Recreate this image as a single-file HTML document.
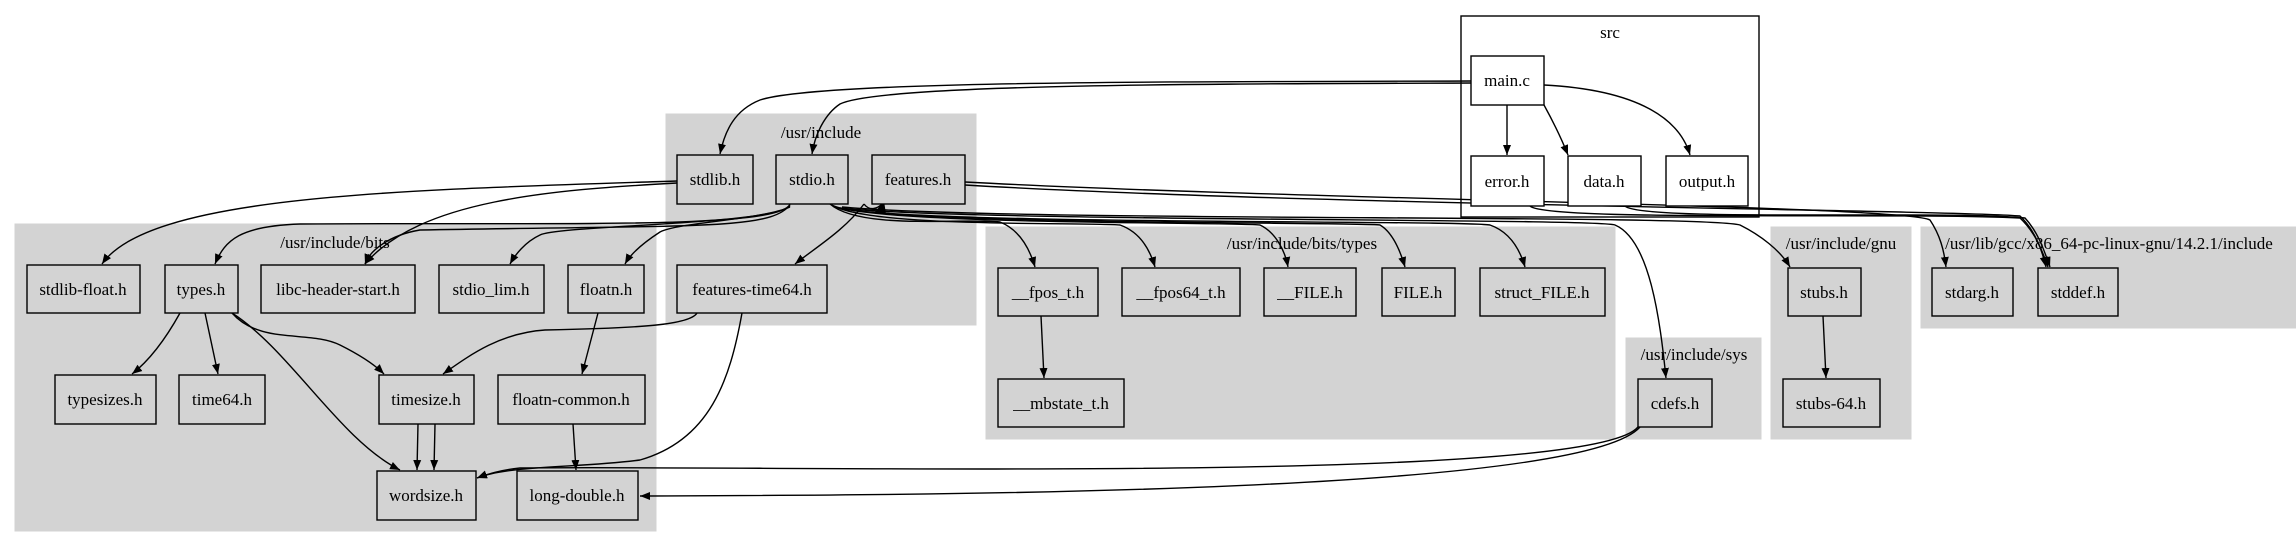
<!DOCTYPE html>
<html><head><meta charset="utf-8"><style>
html,body{margin:0;padding:0;background:#fff;}
svg{display:block;}
text{font-family:"Liberation Serif",serif;font-size:17px;fill:#000;}
.c{fill:#d3d3d3;stroke:#d3d3d3;}
.n{fill:#d3d3d3;stroke:#000;stroke-width:1.4;}
.w{fill:#fff;stroke:#000;stroke-width:1.4;}
.e{fill:none;stroke:#000;stroke-width:1.4;}
</style></head><body>
<svg width="2296" height="545" viewBox="0 0 2296 545" xmlns="http://www.w3.org/2000/svg">
<defs><marker id="a" viewBox="0 0 10 10" refX="10" refY="5" markerWidth="10" markerHeight="10" markerUnits="userSpaceOnUse" orient="auto"><path d="M0,1 L10,5 L0,9 z" fill="#000"/></marker></defs>
<!-- clusters -->
<rect x="1461" y="16" width="298" height="201" fill="#fff" stroke="#000" stroke-width="1.4"/>
<text x="1610" y="38" text-anchor="middle">src</text>
<rect class="c" x="666" y="114" width="310" height="211"/>
<text x="821" y="138" text-anchor="middle">/usr/include</text>
<rect class="c" x="15" y="224" width="641" height="307"/>
<text x="335" y="248" text-anchor="middle">/usr/include/bits</text>
<rect class="c" x="986" y="227" width="629" height="212"/>
<text x="1302" y="249" text-anchor="middle">/usr/include/bits/types</text>
<rect class="c" x="1626" y="338" width="135" height="101"/>
<text x="1694" y="360" text-anchor="middle">/usr/include/sys</text>
<rect class="c" x="1771" y="227" width="140" height="212"/>
<text x="1841" y="249" text-anchor="middle">/usr/include/gnu</text>
<rect class="c" x="1921" y="227" width="375" height="101"/>
<text x="2109" y="249" text-anchor="middle">/usr/lib/gcc/x86_64-pc-linux-gnu/14.2.1/include</text>
<!-- edges -->
<g class="e" marker-end="url(#a)">
<path d="M1471,81 C1200,82 820,80 760,100 C735,110 725,130 720,154"/>
<path d="M1471,83 C1200,84 880,84 840,104 C825,114 815,134 812,154"/>
<path d="M1507,105 L1507,155"/>
<path d="M1544,105 C1555,125 1562,140 1568,155"/>
<path d="M1544,85 C1640,90 1680,120 1690,155"/>
<path d="M677,181 C400,190 150,195 102,264"/>
<path d="M677,183 C550,190 420,200 365,264"/>
<path d="M790,204 C780,230 550,222 300,224 C240,226 225,240 215,264"/>
<path d="M790,205 C770,230 700,225 420,230 C390,235 370,250 365,264"/>
<path d="M790,206 C770,225 560,225 540,235 C525,242 515,255 510,264"/>
<path d="M790,207 C760,220 680,222 660,232 C640,245 630,255 625,264"/>
<path d="M830,204 C860,230 960,218 1000,222 C1020,230 1030,250 1035,267"/>
<path d="M832,205 C870,228 1080,222 1120,225 C1140,232 1150,250 1155,267"/>
<path d="M834,206 C880,225 1240,222 1260,225 C1275,232 1285,250 1288,267"/>
<path d="M836,207 C900,225 1360,222 1380,225 C1392,232 1400,250 1405,267"/>
<path d="M838,208 C920,225 1460,220 1490,225 C1510,232 1520,250 1525,267"/>
<path d="M840,208 C960,222 1600,218 1615,225 C1650,240 1660,320 1666,378"/>
<path d="M842,207 C1000,222 1700,214 1740,225 C1760,235 1780,250 1790,267"/>
<path d="M965,182 C1300,200 1900,205 1930,220 C1940,235 1944,250 1946,267"/>
<path d="M965,185 C1300,205 1950,210 2020,216 C2035,230 2042,250 2046,267"/>
<path d="M1530,206 C1545,222 1900,212 2020,218 C2035,232 2042,250 2048,267"/>
<path d="M1625,206 C1640,222 1950,210 2025,218 C2038,232 2044,250 2050,267"/>
<path d="M864,204 C845,230 815,248 795,264"/>
<path d="M180,313 C165,340 150,360 132,374"/>
<path d="M205,313 L218,374"/>
<path d="M232,313 C260,345 310,330 340,345 C360,355 375,365 384,374"/>
<path d="M232,313 C290,350 340,440 400,470"/>
<path d="M697,313 C690,325 640,328 545,330 C500,333 470,355 443,374"/>
<path d="M742,313 C730,380 710,440 640,460 C580,468 510,465 477,478"/>
<path d="M598,313 L582,374"/>
<path d="M573,424 L576,470"/>
<path d="M418,424 L417,470"/>
<path d="M435,424 L434,470"/>
<path d="M1041,316 L1044,378"/>
<path d="M1823,316 L1826,378"/>
<path d="M1638,427 C1590,485 800,465 520,468 C500,470 488,474 477,478"/>
<path d="M1640,427 C1580,495 900,495 640,496"/>
</g>
<path class="e" d="M864,204 C870,212 878,208 882,204" />
<path d="M875,212 L884,201 L886,214 z" fill="#000"/>
<!-- nodes -->
<g>
<rect class="w" x="1471" y="56" width="73" height="49"/><text x="1507" y="86" text-anchor="middle">main.c</text>
<rect class="w" x="1471" y="156" width="73" height="50"/><text x="1507" y="187" text-anchor="middle">error.h</text>
<rect class="w" x="1568" y="156" width="73" height="50"/><text x="1604" y="187" text-anchor="middle">data.h</text>
<rect class="w" x="1666" y="156" width="82" height="50"/><text x="1707" y="187" text-anchor="middle">output.h</text>

<rect class="n" x="677" y="155" width="76" height="49"/><text x="715" y="185" text-anchor="middle">stdlib.h</text>
<rect class="n" x="776" y="155" width="72" height="49"/><text x="812" y="185" text-anchor="middle">stdio.h</text>
<rect class="n" x="872" y="155" width="93" height="49"/><text x="918" y="185" text-anchor="middle">features.h</text>

<rect class="n" x="27" y="265" width="113" height="48"/><text x="83" y="295" text-anchor="middle">stdlib-float.h</text>
<rect class="n" x="165" y="265" width="73" height="48"/><text x="201" y="295" text-anchor="middle">types.h</text>
<rect class="n" x="261" y="265" width="154" height="48"/><text x="338" y="295" text-anchor="middle">libc-header-start.h</text>
<rect class="n" x="439" y="265" width="105" height="48"/><text x="491" y="295" text-anchor="middle">stdio_lim.h</text>
<rect class="n" x="568" y="265" width="76" height="48"/><text x="606" y="295" text-anchor="middle">floatn.h</text>
<rect class="n" x="677" y="265" width="150" height="48"/><text x="752" y="295" text-anchor="middle">features-time64.h</text>

<rect class="n" x="55" y="375" width="101" height="49"/><text x="105" y="405" text-anchor="middle">typesizes.h</text>
<rect class="n" x="179" y="375" width="86" height="49"/><text x="222" y="405" text-anchor="middle">time64.h</text>
<rect class="n" x="379" y="375" width="95" height="49"/><text x="426" y="405" text-anchor="middle">timesize.h</text>
<rect class="n" x="498" y="375" width="147" height="49"/><text x="571" y="405" text-anchor="middle">floatn-common.h</text>
<rect class="n" x="377" y="471" width="99" height="49"/><text x="426" y="501" text-anchor="middle">wordsize.h</text>
<rect class="n" x="517" y="471" width="121" height="49"/><text x="577" y="501" text-anchor="middle">long-double.h</text>

<rect class="n" x="998" y="268" width="100" height="48"/><text x="1048" y="298" text-anchor="middle">__fpos_t.h</text>
<rect class="n" x="1122" y="268" width="118" height="48"/><text x="1181" y="298" text-anchor="middle">__fpos64_t.h</text>
<rect class="n" x="1264" y="268" width="92" height="48"/><text x="1310" y="298" text-anchor="middle">__FILE.h</text>
<rect class="n" x="1382" y="268" width="73" height="48"/><text x="1418" y="298" text-anchor="middle">FILE.h</text>
<rect class="n" x="1480" y="268" width="125" height="48"/><text x="1542" y="298" text-anchor="middle">struct_FILE.h</text>
<rect class="n" x="998" y="379" width="126" height="48"/><text x="1061" y="409" text-anchor="middle">__mbstate_t.h</text>

<rect class="n" x="1638" y="379" width="74" height="48"/><text x="1675" y="409" text-anchor="middle">cdefs.h</text>
<rect class="n" x="1788" y="268" width="73" height="48"/><text x="1824" y="298" text-anchor="middle">stubs.h</text>
<rect class="n" x="1783" y="379" width="97" height="48"/><text x="1831" y="409" text-anchor="middle">stubs-64.h</text>
<rect class="n" x="1932" y="268" width="81" height="48"/><text x="1972" y="298" text-anchor="middle">stdarg.h</text>
<rect class="n" x="2038" y="268" width="80" height="48"/><text x="2078" y="298" text-anchor="middle">stddef.h</text>
</g>
</svg>
</body></html>
